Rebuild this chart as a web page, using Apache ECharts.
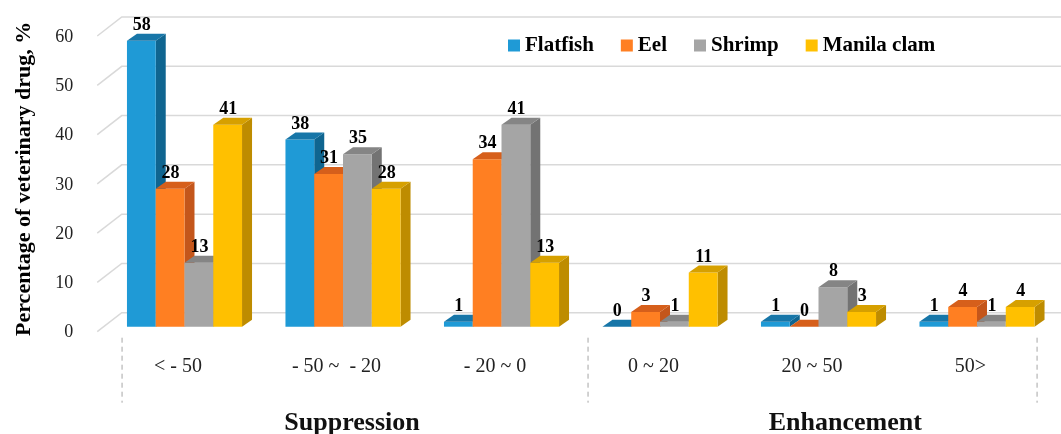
<!DOCTYPE html>
<html>
<head>
<meta charset="utf-8">
<script src="https://cdn.jsdelivr.net/npm/echarts@6/dist/echarts.min.js"></script>
<style>
html,body{margin:0;padding:0;background:#fff;}
#chart{width:1061px;height:434px;}
</style>
</head>
<body>
<div id="chart"></div>
<script>
// ---- data ----
const categories = ['< - 50', '- 50 ~  - 20', '- 20 ~ 0', '0 ~ 20', '20 ~ 50', '50>'];
const seriesNames = ['Flatfish', 'Eel', 'Shrimp', 'Manila clam'];
const flatfish = [58, 38, 1, 0, 1, 1];
const eel = [28, 31, 34, 3, 0, 4];
const shrimp = [13, 35, 41, 1, 8, 1];
const manilaClam = [41, 28, 13, 11, 3, 4];
const yTicks = [0, 10, 20, 30, 40, 50, 60];
const groupNames = ['Suppression', 'Enhancement'];
const groupFrom = [0, 3];
const groupTo = [2, 5];

// ---- styles ----
const palette = [
  { front: '#1F9AD6', side: '#0F6590', top: '#1776A8' },
  { front: '#FF7F22', side: '#C4561B', top: '#D65F1B' },
  { front: '#A5A5A5', side: '#737373', top: '#858585' },
  { front: '#FFC000', side: '#BE8C00', top: '#D6A000' }
];
const DX = 10, DY = -7;
const SERIF = '"Liberation Serif", "Times New Roman", serif';

function barRenderer(k) {
  const col = palette[k];
  return function (params, api) {
    const cat = api.value(0), v = api.value(1);
    const top = api.coord([cat, v]);
    const base = api.coord([cat, 0]);
    const band = api.size([1, 0])[0];
    const bw = band * 0.1815;
    const x0 = top[0] - band * 0.322 + k * bw;
    const x1 = x0 + bw;
    const yt = top[1], yb = base[1];
    return {
      type: 'group',
      children: [
        { type: 'polygon', shape: { points: [[x1, yt], [x1 + DX, yt + DY], [x1 + DX, yb + DY], [x1, yb]] }, style: { fill: col.side } },
        { type: 'rect', shape: { x: x0, y: yt, width: bw, height: Math.max(yb - yt, 0) }, style: { fill: col.front } },
        { type: 'polygon', shape: { points: [[x0, yt], [x1, yt], [x1 + DX, yt + DY], [x0 + DX, yt + DY]] }, style: { fill: col.top } },
        { type: 'text', style: { text: String(v), x: x0 + bw / 2 + 0.5, y: yt + DY + 0.5, align: 'center', verticalAlign: 'bottom', font: 'bold 18px ' + SERIF, fill: '#000' } }
      ]
    };
  };
}

function gridRenderer(params, api) {
  const v = api.value(1);
  const y = api.coord([0, v])[1];
  const gx = params.coordSys.x;
  const W = api.getWidth();
  return {
    type: 'group',
    children: [
      {
        type: 'polyline',
        shape: { points: [[gx - 1.5, y + 5], [gx + 23, y - 14], [W, y - 14]] },
        style: { stroke: '#D9D9D9', lineWidth: 1.5, fill: null }
      },
      {
        type: 'text',
        style: { text: String(v), x: gx - 25.5, y: y + 6, align: 'right', verticalAlign: 'middle', font: '18px ' + SERIF, fill: '#222' }
      }
    ]
  };
}

function groupRenderer(params, api) {
  const g = params.dataIndex;
  const from = api.value(0), to = api.value(1);
  const band = api.size([1, 0])[0];
  const base = api.coord([from, 0])[1];
  const cFrom = api.coord([from, 0])[0];
  const cTo = api.coord([to, 0])[0];
  const mid = (cFrom + cTo) / 2;
  const children = [];
  const sepStyle = { stroke: '#A6A6A6', lineWidth: 1, lineDash: [5, 4] };
  if (g === 0) {
    const xl = cFrom - band * 0.353;
    children.push({ type: 'line', shape: { x1: xl, y1: base + 11, x2: xl, y2: base + 76 }, style: sepStyle });
  }
  const xr = cTo + band * (g === groupNames.length - 1 ? 0.42 : 0.587);
  children.push({ type: 'line', shape: { x1: xr, y1: base + 11, x2: xr, y2: base + 76 }, style: sepStyle });
  const off = g === 0 ? 0.098 : 0.21;
  children.push({ type: 'text', style: { text: groupNames[g], x: mid + band * off, y: base + 97, align: 'center', verticalAlign: 'middle', font: 'bold 26px ' + SERIF, fill: '#111' } });
  return { type: 'group', children };
}

const valueSets = [flatfish, eel, shrimp, manilaClam];

const series = [
  {
    type: 'custom', name: '_grid', silent: true, clip: false, z: 1,
    renderItem: gridRenderer,
    encode: { x: 0, y: 1 },
    data: yTicks.map(v => [0, v])
  },
  {
    type: 'custom', name: '_groups', silent: true, clip: false, z: 1,
    renderItem: groupRenderer,
    encode: { x: [0, 1] },
    data: groupNames.map((n, i) => [groupFrom[i], groupTo[i]])
  }
];
seriesNames.forEach((name, k) => {
  series.push({
    type: 'custom', name, clip: false, z: 2,
    itemStyle: { color: palette[k].front },
    renderItem: barRenderer(k),
    encode: { x: 0, y: 1 },
    data: valueSets[k].map((v, i) => [i, v])
  });
});

const chart = echarts.init(document.getElementById('chart'));
chart.setOption({
  animation: false,
  backgroundColor: '#fff',
  grid: { left: 98.75, right: 11.25, top: 31, bottom: 107.3, containLabel: false, outerBoundsMode: 'none' },
  legend: {
    data: seriesNames,
    left: 503, top: 30,
    icon: 'rect', itemWidth: 12, itemHeight: 12, itemGap: 27,
    textStyle: { fontFamily: SERIF, fontWeight: 'bold', fontSize: 21, color: '#000' }
  },
  xAxis: {
    type: 'category',
    data: categories,
    axisLine: { show: false },
    axisTick: { show: false },
    splitLine: { show: false },
    axisLabel: { fontFamily: SERIF, fontSize: 20, color: '#222', margin: 30, interval: 0 }
  },
  yAxis: {
    type: 'value',
    min: 0, max: 60, interval: 10,
    name: 'Percentage of veterinary drug, %',
    nameLocation: 'middle', nameRotate: 90, nameGap: 63,
    nameTextStyle: { fontFamily: SERIF, fontWeight: 'bold', fontSize: 22, color: '#000' },
    axisLine: { show: false },
    axisTick: { show: false },
    splitLine: { show: false },
    axisLabel: { show: false }
  },
  series
});
</script>
</body>
</html>
